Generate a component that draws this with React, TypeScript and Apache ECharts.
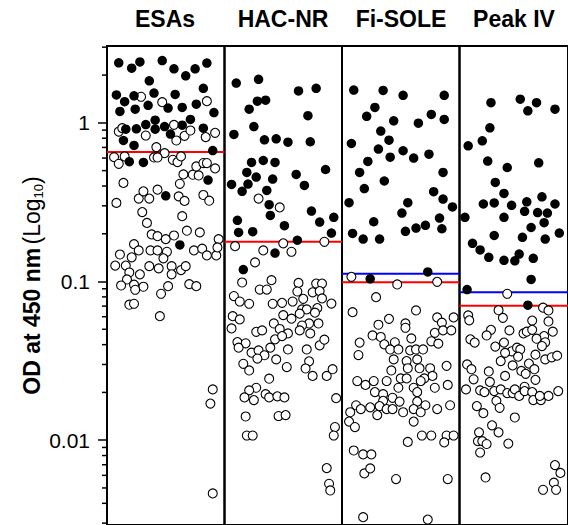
import React, { useEffect, useRef } from "react";
import * as echarts from "echarts";

const panelNames = ["ESAs", "HAC-NR", "Fi-SOLE", "Peak IV"];

// [jitter position within panel (0..1), OD at 450 nm]
const esasPositive = [[0.10,2.39],[0.21,2.21],[0.28,2.42],[0.47,2.47],[0.57,2.19],[0.67,1.98],[0.75,2.19],[0.85,2.38],[0.36,1.84],[0.08,1.50],[0.15,1.36],[0.23,1.48],[0.40,1.54],[0.58,1.51],[0.82,1.65],[0.11,1.18],[0.24,1.22],[0.35,1.29],[0.52,1.24],[0.64,1.25],[0.76,1.31],[0.91,1.16],[0.41,1.04],[0.33,0.976],[0.25,0.917],[0.16,0.912],[0.41,0.912],[0.49,0.948],[0.64,0.967],[0.71,1.05],[0.54,0.849],[0.82,0.926],[0.14,0.774],[0.23,0.72],[0.90,0.669],[0.19,0.569],[0.31,0.563],[0.86,0.436],[0.50,0.347],[0.62,0.170]];
const esasNegative = [[0.29,1.46],[0.47,1.35],[0.85,1.37],[0.10,0.881],[0.13,0.926],[0.33,0.832],[0.57,0.971],[0.59,0.774],[0.66,0.828],[0.71,0.895],[0.84,0.813],[0.92,0.865],[0.42,0.703],[0.49,0.644],[0.06,0.608],[0.10,0.552],[0.15,0.614],[0.40,0.605],[0.43,0.605],[0.56,0.585],[0.60,0.566],[0.63,0.614],[0.14,0.418],[0.08,0.313],[0.27,0.333],[0.31,0.370],[0.36,0.333],[0.43,0.379],[0.62,0.413],[0.65,0.473],[0.61,0.344],[0.66,0.322],[0.73,0.471],[0.76,0.531],[0.78,0.466],[0.82,0.558],[0.85,0.558],[0.92,0.516],[0.82,0.351],[0.87,0.323],[0.30,0.274],[0.34,0.234],[0.64,0.258],[0.38,0.198],[0.43,0.193],[0.50,0.185],[0.57,0.195],[0.68,0.209],[0.79,0.204],[0.95,0.185],[0.23,0.172],[0.11,0.148],[0.27,0.157],[0.21,0.142],[0.37,0.157],[0.43,0.157],[0.51,0.154],[0.48,0.140],[0.74,0.157],[0.81,0.161],[0.85,0.146],[0.93,0.146],[0.94,0.164],[0.07,0.126],[0.16,0.126],[0.19,0.114],[0.36,0.125],[0.44,0.121],[0.55,0.125],[0.55,0.111],[0.63,0.118],[0.67,0.125],[0.17,0.103],[0.12,0.0944],[0.23,0.0955],[0.31,0.0927],[0.52,0.0935],[0.70,0.0962],[0.76,0.0935],[0.28,0.111],[0.24,0.0887],[0.19,0.0714],[0.23,0.0724],[0.46,0.0837],[0.45,0.0605],[0.90,0.0209],[0.88,0.0170],[0.90,0.00462]];

const hacPositive = [[0.10,1.78],[0.29,1.88],[0.63,1.59],[0.78,1.65],[0.28,1.37],[0.35,1.39],[0.21,1.22],[0.71,1.11],[0.25,0.948],[0.08,0.845],[0.34,0.782],[0.44,0.793],[0.54,0.755],[0.73,0.76],[0.23,0.563],[0.33,0.579],[0.43,0.563],[0.19,0.487],[0.27,0.455],[0.41,0.442],[0.61,0.473],[0.86,0.508],[0.06,0.409],[0.15,0.370],[0.20,0.411],[0.36,0.375],[0.68,0.403],[0.38,0.305],[0.39,0.261],[0.74,0.278],[0.11,0.243],[0.81,0.237],[0.93,0.254],[0.12,0.204],[0.24,0.206],[0.51,0.225],[0.91,0.202],[0.62,0.182],[0.43,0.151],[0.16,0.119]];
const hacNegative = [[0.29,0.333],[0.47,0.293],[0.09,0.167],[0.33,0.157],[0.50,0.174],[0.57,0.154],[0.85,0.178],[0.26,0.132],[0.15,0.0986],[0.40,0.102],[0.63,0.098],[0.78,0.097],[0.83,0.097],[0.30,0.089],[0.36,0.089],[0.62,0.0865],[0.75,0.0855],[0.81,0.087],[0.83,0.0782],[0.08,0.081],[0.13,0.0748],[0.21,0.0724],[0.41,0.0724],[0.49,0.0734],[0.58,0.0748],[0.67,0.0778],[0.91,0.0726],[0.66,0.0667],[0.70,0.0667],[0.79,0.068],[0.77,0.0636],[0.64,0.0627],[0.07,0.0605],[0.13,0.0577],[0.06,0.0506],[0.50,0.0614],[0.57,0.0583],[0.42,0.0544],[0.72,0.0544],[0.80,0.0544],[0.66,0.0528],[0.47,0.0502],[0.54,0.0471],[0.64,0.0492],[0.73,0.0471],[0.27,0.0482],[0.32,0.0492],[0.43,0.0432],[0.49,0.0453],[0.11,0.0415],[0.18,0.0408],[0.12,0.0383],[0.23,0.0356],[0.29,0.0368],[0.34,0.0343],[0.28,0.0327],[0.39,0.0383],[0.54,0.0373],[0.70,0.0373],[0.81,0.0396],[0.85,0.043],[0.44,0.0323],[0.16,0.0303],[0.21,0.0275],[0.53,0.0289],[0.72,0.0314],[0.69,0.0283],[0.75,0.0254],[0.87,0.0254],[0.92,0.028],[0.38,0.0244],[0.27,0.0214],[0.21,0.0206],[0.17,0.0186],[0.25,0.0179],[0.35,0.0195],[0.38,0.0186],[0.45,0.0189],[0.51,0.0186],[0.95,0.0184],[0.18,0.0141],[0.46,0.0142],[0.52,0.0144],[0.19,0.0107],[0.24,0.0107],[0.94,0.0121],[0.93,0.0107],[0.87,0.00667],[0.89,0.00531],[0.90,0.00482]];

const fiPositive = [[0.10,1.61],[0.35,1.60],[0.52,1.49],[0.87,1.49],[0.28,1.25],[0.21,1.10],[0.44,1.03],[0.65,0.995],[0.76,1.13],[0.87,1.05],[0.33,0.887],[0.40,0.778],[0.08,0.741],[0.31,0.683],[0.22,0.571],[0.41,0.608],[0.52,0.667],[0.61,0.60],[0.74,0.635],[0.15,0.487],[0.36,0.43],[0.86,0.487],[0.19,0.385],[0.06,0.314],[0.56,0.314],[0.78,0.368],[0.86,0.331],[0.94,0.295],[0.51,0.27],[0.27,0.238],[0.83,0.251],[0.09,0.201],[0.18,0.185],[0.32,0.185],[0.54,0.207],[0.63,0.217],[0.71,0.226],[0.85,0.215],[0.73,0.115],[0.24,0.104]];
const fiNegative = [[0.08,0.107],[0.47,0.0958],[0.81,0.0995],[0.29,0.0797],[0.09,0.0641],[0.63,0.0657],[0.40,0.0582],[0.31,0.0534],[0.54,0.0544],[0.54,0.0511],[0.81,0.0594],[0.85,0.055],[0.95,0.0594],[0.26,0.0457],[0.33,0.0447],[0.36,0.0402],[0.45,0.0414],[0.41,0.0373],[0.48,0.0373],[0.59,0.0438],[0.79,0.0475],[0.86,0.0492],[0.93,0.0492],[0.76,0.042],[0.82,0.0406],[0.15,0.0412],[0.14,0.0344],[0.58,0.0368],[0.63,0.0373],[0.69,0.0373],[0.44,0.0323],[0.55,0.0315],[0.64,0.0323],[0.56,0.0284],[0.66,0.0284],[0.75,0.0284],[0.89,0.0294],[0.42,0.0275],[0.77,0.0254],[0.70,0.0245],[0.50,0.0245],[0.55,0.0245],[0.13,0.0236],[0.20,0.0223],[0.27,0.0236],[0.38,0.0236],[0.67,0.0236],[0.90,0.0223],[0.48,0.0214],[0.61,0.0214],[0.79,0.0214],[0.28,0.0201],[0.35,0.0195],[0.64,0.0201],[0.43,0.0185],[0.35,0.0177],[0.49,0.0175],[0.64,0.0175],[0.71,0.0166],[0.12,0.0166],[0.16,0.0157],[0.24,0.0161],[0.32,0.0164],[0.38,0.0157],[0.43,0.0157],[0.61,0.0157],[0.67,0.015],[0.92,0.0166],[0.81,0.0157],[0.07,0.015],[0.30,0.0144],[0.52,0.015],[0.06,0.0131],[0.11,0.0121],[0.61,0.0131],[0.68,0.0107],[0.76,0.0107],[0.89,0.0107],[0.95,0.0107],[0.87,0.00968],[0.56,0.00975],[0.10,0.00861],[0.18,0.00813],[0.25,0.00813],[0.19,0.00617],[0.24,0.00664],[0.46,0.00569],[0.90,0.00569],[0.18,0.00327],[0.73,0.00316]];

const peakPositive = [[0.29,1.34],[0.56,1.41],[0.63,1.19],[0.71,1.34],[0.88,1.22],[0.28,0.93],[0.21,0.77],[0.08,0.717],[0.26,0.574],[0.44,0.523],[0.73,0.56],[0.33,0.421],[0.41,0.359],[0.22,0.308],[0.32,0.313],[0.48,0.302],[0.62,0.318],[0.76,0.342],[0.88,0.308],[0.05,0.254],[0.41,0.254],[0.60,0.277],[0.72,0.272],[0.81,0.27],[0.78,0.235],[0.66,0.219],[0.12,0.174],[0.32,0.195],[0.58,0.19],[0.79,0.185],[0.92,0.202],[0.19,0.158],[0.27,0.142],[0.41,0.136],[0.51,0.135],[0.55,0.149],[0.68,0.14],[0.66,0.103],[0.07,0.089],[0.63,0.0709]];
const peakNegative = [[0.44,0.0837],[0.77,0.0684],[0.82,0.0657],[0.36,0.0659],[0.08,0.0611],[0.09,0.0569],[0.40,0.059],[0.67,0.0567],[0.82,0.056],[0.46,0.0492],[0.29,0.0496],[0.25,0.0457],[0.59,0.0471],[0.62,0.0483],[0.67,0.0496],[0.86,0.0483],[0.78,0.0453],[0.71,0.0436],[0.79,0.0414],[0.76,0.0392],[0.10,0.0432],[0.14,0.0412],[0.33,0.0389],[0.41,0.0412],[0.48,0.0363],[0.53,0.0383],[0.56,0.0373],[0.54,0.0336],[0.42,0.0355],[0.38,0.0315],[0.49,0.0296],[0.64,0.0304],[0.70,0.0346],[0.79,0.0323],[0.85,0.0333],[0.90,0.0341],[0.07,0.030],[0.11,0.028],[0.13,0.0242],[0.27,0.0271],[0.28,0.0233],[0.42,0.0254],[0.57,0.0273],[0.61,0.0262],[0.69,0.028],[0.70,0.024],[0.06,0.0209],[0.19,0.0206],[0.23,0.0201],[0.32,0.0204],[0.38,0.0209],[0.44,0.0198],[0.49,0.0198],[0.51,0.0209],[0.55,0.019],[0.60,0.0217],[0.60,0.0204],[0.67,0.0201],[0.68,0.0179],[0.75,0.0179],[0.82,0.019],[0.74,0.019],[0.91,0.0204],[0.16,0.0164],[0.22,0.0148],[0.34,0.0177],[0.37,0.016],[0.51,0.0139],[0.30,0.0124],[0.36,0.0112],[0.18,0.0112],[0.17,0.00986],[0.21,0.00986],[0.25,0.00946],[0.19,0.00836],[0.45,0.00952],[0.88,0.00697],[0.93,0.00622],[0.24,0.00582],[0.77,0.00487],[0.87,0.0054],[0.89,0.00487]];

const positives = [esasPositive, hacPositive, fiPositive, peakPositive];
const negatives = [esasNegative, hacNegative, fiNegative, peakNegative];
const redCutoffs = [0.654, 0.178, 0.099, 0.0703];
const blueCutoffs: (number | null)[] = [null, null, 0.112, 0.0857];

const yMin = 0.00292;
const yMax = 3.05;
const minorTickValues = [0.003,0.004,0.005,0.006,0.007,0.008,0.009,0.02,0.03,0.04,0.05,0.06,0.07,0.08,0.09,0.2,0.3,0.4,0.5,0.6,0.7,0.8,0.9,2,3];

const FONT = "'Liberation Sans', Arial, Helvetica, sans-serif";
const panelLefts = [107, 224.5, 342, 459.5];
const panelWidth = 117.5;
const titleCenters = [165, 283, 401, 514];

export default function App() {
  const ref = useRef<HTMLDivElement>(null);
  useEffect(() => {
    const chart = echarts.init(ref.current!, null, { renderer: "svg" });
    const grid: any[] = [];
    const xAxis: any[] = [];
    const yAxis: any[] = [];
    const series: any[] = [];
    panelNames.forEach((_, i) => {
      grid.push({
        left: panelLefts[i], top: 46, width: panelWidth, height: 480,
        show: true, borderColor: "#000", borderWidth: 2, backgroundColor: "transparent",
      });
      xAxis.push({ gridIndex: i, type: "value", min: 0, max: 1, show: false });
      yAxis.push({
        gridIndex: i, type: "log", logBase: 10, min: yMin, max: yMax,
        splitLine: { show: false },
        axisLine: { show: i === 0, onZero: false, lineStyle: { color: "#000", width: 2 } },
        axisTick: { show: i === 0, length: 9, inside: false, lineStyle: { color: "#000", width: 1.5 } },
        axisLabel: {
          show: i === 0, showMinLabel: false, showMaxLabel: false, margin: 17,
          color: "#000", fontSize: 21, fontFamily: FONT,
          formatter: (v: number) => String(parseFloat(v.toPrecision(3))),
        },
        name: i === 0 ? "{b|OD at 450 nm} {n|(Log}{s|10}{n|)}" : "",
        nameLocation: "middle",
        nameRotate: 90,
        nameGap: 63,
        nameTextStyle: {
          color: "#000",
          fontFamily: FONT,
          rich: {
            b: { fontSize: 23, fontWeight: "bold", fontFamily: FONT, color: "#000", lineHeight: 23, verticalAlign: "top" },
            n: { fontSize: 23, fontFamily: FONT, color: "#000", lineHeight: 23, verticalAlign: "top" },
            s: { fontSize: 13, fontFamily: FONT, color: "#000", lineHeight: 13, padding: [12, 0, 0, 0], verticalAlign: "top" },
          },
        },
      });
      series.push({
        type: "line", xAxisIndex: i, yAxisIndex: i, silent: true, symbol: "none", z: 1,
        data: [[0, redCutoffs[i]], [1, redCutoffs[i]]],
        lineStyle: { color: "#ff0000", width: 2 },
      });
      if (blueCutoffs[i] !== null) {
        series.push({
          type: "line", xAxisIndex: i, yAxisIndex: i, silent: true, symbol: "none", z: 1,
          data: [[0, blueCutoffs[i]], [1, blueCutoffs[i]]],
          lineStyle: { color: "#0000ff", width: 2 },
        });
      }
      series.push({
        type: "scatter", xAxisIndex: i, yAxisIndex: i, silent: true, z: 2,
        symbol: "circle", symbolSize: 9,
        data: negatives[i],
        itemStyle: { color: "#fff", borderColor: "#000", borderWidth: 1.1, opacity: 1 },
      });
      series.push({
        type: "scatter", xAxisIndex: i, yAxisIndex: i, silent: true, z: 3,
        symbol: "circle", symbolSize: 9.5,
        data: positives[i],
        itemStyle: { color: "#000", opacity: 1 },
      });
    });
    series.push({
      type: "custom", xAxisIndex: 0, yAxisIndex: 0, silent: true, clip: false, z: 5,
      data: minorTickValues.map((v) => [0, v]),
      renderItem: (_p: any, api: any) => {
        const pt = api.coord([0, api.value(1)]);
        return {
          type: "line",
          shape: { x1: pt[0] - 5, y1: pt[1], x2: pt[0], y2: pt[1] },
          style: { stroke: "#000", lineWidth: 1.5 },
        };
      },
    });

    chart.setOption({
      animation: false,
      backgroundColor: "#fff",
      grid, xAxis, yAxis, series,
      graphic: panelNames.map((t, i) => ({
        type: "text",
        x: titleCenters[i],
        y: 19,
        silent: true,
        style: {
          text: t, fill: "#000", fontSize: 23, fontWeight: "bold", fontFamily: FONT,
          align: "center", verticalAlign: "middle",
        },
      })),
    });
    return () => chart.dispose();
  }, []);
  return <div ref={ref} style={{ position: "fixed", left: 0, top: 0, width: 568, height: 525 }} />;
}
